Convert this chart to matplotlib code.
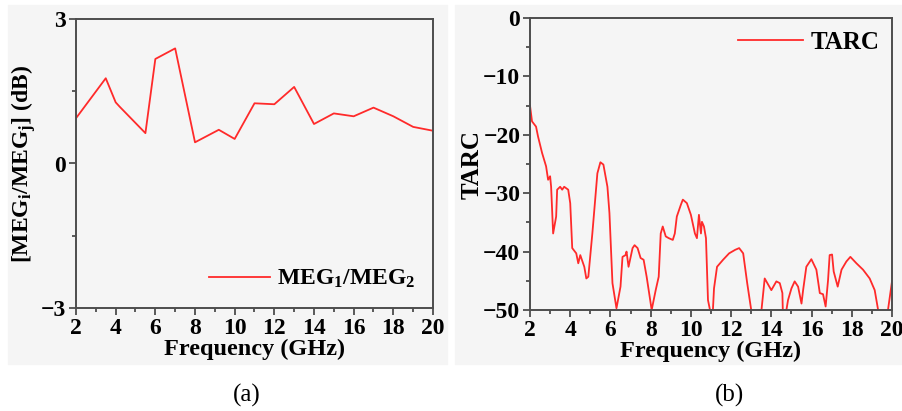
import matplotlib.pyplot as plt
from matplotlib.patches import Rectangle
from matplotlib.ticker import MultipleLocator

# (a) MEG ratio data
meg_freq = [2, 3.5, 4, 4.2, 5.5, 6, 7, 8, 9.2, 10, 11, 12, 13, 14, 15, 16, 17, 18, 19, 20]
meg_ratio = [0.94, 1.77, 1.27, 1.18, 0.63, 2.17, 2.39, 0.44, 0.70, 0.51, 1.25, 1.23,
             1.59, 0.82, 1.04, 0.98, 1.16, 0.98, 0.76, 0.68]

# (b) TARC data (dB)
tarc_freq = [2.0, 2.1, 2.3, 2.4, 2.6, 2.8, 2.9, 3.0, 3.05, 3.15, 3.3, 3.35, 3.5, 3.6,
             3.7, 3.9, 4.0, 4.1, 4.3, 4.4, 4.5, 4.7, 4.8, 4.9, 5.1, 5.35, 5.5, 5.65,
             5.85, 5.95, 6.1, 6.3, 6.5, 6.6, 6.75, 6.8, 6.9, 7.1, 7.2, 7.35, 7.5,
             7.65, 7.8, 7.95, 8.05, 8.25, 8.4, 8.5, 8.6, 8.75, 8.9, 9.1, 9.2, 9.3,
             9.5, 9.6, 9.8, 10.0, 10.2, 10.3, 10.4, 10.5, 10.55, 10.65, 10.75, 10.85,
             10.95, 11.05, 11.15, 11.3, 11.6, 11.9, 12.2, 12.4, 12.6, 12.8, 13.0,
             13.3, 13.51, 13.67, 14.0, 14.25, 14.42, 14.55, 14.57, 14.65, 14.75,
             14.83, 15.0, 15.16, 15.33, 15.5, 15.58, 15.74, 15.99, 16.24, 16.41,
             16.57, 16.7, 16.82, 16.9, 17.02, 17.1, 17.3, 17.49, 17.73, 17.93,
             18.23, 18.56, 18.89, 19.14, 19.31, 19.5, 19.8, 20.0]
tarc_db = [-15.0, -17.7, -18.6, -20.3, -23.1, -25.4, -27.7, -27.1, -28.9, -36.9, -34.0,
           -29.4, -28.9, -29.4, -28.9, -29.4, -31.7, -39.4, -40.3, -42.0, -40.6, -42.6,
           -44.6, -44.3, -36.9, -26.6, -24.7, -25.1, -28.9, -33.4, -45.4, -49.7, -46.0,
           -40.9, -40.6, -40.0, -42.6, -39.4, -38.9, -39.4, -41.1, -41.4, -44.3, -47.7,
           -50.0, -46.6, -44.3, -36.9, -35.7, -37.4, -37.7, -38.0, -36.9, -34.0, -32.0,
           -31.1, -31.7, -33.7, -36.9, -37.7, -33.7, -36.9, -34.9, -35.7, -37.7, -48.3,
           -50.0, -53.0, -46.3, -42.6, -41.4, -40.3, -39.7, -39.4, -40.3, -45.4, -50.0,
           -53.0, -50.0, -44.6, -46.6, -45.1, -45.4, -47.1, -50.0, -53.0, -50.0, -48.3,
           -46.3, -45.1, -46.0, -48.9, -46.6, -42.6, -41.3, -43.1, -47.1, -47.3, -49.4,
           -44.9, -40.6, -40.5, -43.4, -46.0, -43.1, -41.7, -40.9, -42.0, -43.1, -44.6,
           -46.6, -50.0, -53.0, -50.0, -45.1]

red = '#ff2a2a'
spine_col = '#4d4d4d'
bg = '#f5f5f5'

plt.rcParams['font.family'] = ['Liberation Serif', 'DejaVu Serif']
plt.rcParams['mathtext.fontset'] = 'custom'
plt.rcParams['mathtext.rm'] = 'Liberation Serif:bold'
plt.rcParams['mathtext.it'] = 'Liberation Serif:bold'
plt.rcParams['mathtext.bf'] = 'Liberation Serif:bold'

fig = plt.figure(figsize=(9.03, 4.11), dpi=100, facecolor='white')
# grey image backgrounds behind each panel
fig.patches.append(Rectangle((8 / 903, 1 - 364 / 411), 439 / 903, 359 / 411,
                             transform=fig.transFigure, color=bg, zorder=-1))
fig.patches.append(Rectangle((455 / 903, 1 - 364 / 411), 448 / 903, 359 / 411,
                             transform=fig.transFigure, color=bg, zorder=-1))

ax1 = fig.add_axes([76 / 903, 1 - 308 / 411, 357 / 903, 289 / 411])
ax2 = fig.add_axes([530 / 903, 1 - 310 / 411, 362 / 903, 292 / 411])


def style(ax):
    ax.set_facecolor(bg)
    for s in ax.spines.values():
        s.set_color(spine_col)
        s.set_linewidth(1.4)
    ax.tick_params(which='both', direction='out', color=spine_col, width=1.3,
                   top=False, right=False, labelsize=17, pad=2)
    ax.tick_params(which='major', length=5)
    ax.tick_params(which='minor', length=3)
    for lab in ax.get_xticklabels() + ax.get_yticklabels():
        lab.set_fontweight('bold')
    ax.set_xlim(2, 20)
    ax.xaxis.set_major_locator(MultipleLocator(2))
    ax.xaxis.set_minor_locator(MultipleLocator(1))
    ax.set_xlabel('Frequency (GHz)', fontsize=17.5, fontweight='bold', labelpad=0)


# panel (a)
ax1.plot(meg_freq, meg_ratio, color=red, lw=1.3, label=r'MEG$_1$/MEG$_2$')
ax1.set_ylim(-3, 3)
ax1.yaxis.set_major_locator(MultipleLocator(3))
ax1.yaxis.set_minor_locator(MultipleLocator(1.5))
style(ax1)
ax1.set_ylabel(r'[MEG$_i$/MEG$_j$] (dB)', fontsize=17, fontweight='bold', labelpad=2)
leg1 = ax1.legend(loc='lower right', frameon=False, fontsize=17, handlelength=2.6,
                  borderaxespad=0.35, handletextpad=0.3)
for t in leg1.get_texts():
    t.set_fontweight('bold')

# panel (b)
ax2.plot(tarc_freq, tarc_db, color=red, lw=1.3, label='TARC')
ax2.set_ylim(-50, 0)
ax2.yaxis.set_major_locator(MultipleLocator(10))
ax2.yaxis.set_minor_locator(MultipleLocator(5))
style(ax2)
ax2.set_ylabel('TARC', fontsize=18, fontweight='bold', labelpad=0)
leg2 = ax2.legend(loc='upper right', frameon=False, fontsize=18, handlelength=2.6,
                  borderaxespad=0.1, handletextpad=0.3)
for t in leg2.get_texts():
    t.set_fontweight('bold')

fig.text(247 / 903, 1 - 395 / 411, '(a)', fontsize=18, ha='center', va='center')
fig.text(730 / 903, 1 - 395 / 411, '(b)', fontsize=18, ha='center', va='center')

fig.savefig('out.png', dpi=100, facecolor=fig.get_facecolor())
